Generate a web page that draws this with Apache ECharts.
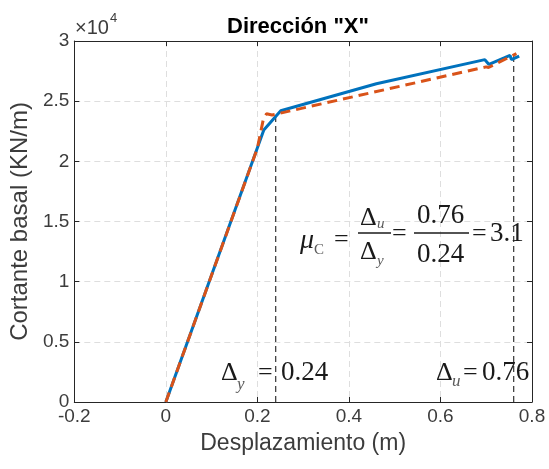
<!DOCTYPE html>
<html>
<head>
<meta charset="utf-8">
<script src="https://cdn.jsdelivr.net/npm/echarts@6/dist/echarts.min.js"></script>
<style>
  html, body { margin: 0; padding: 0; background: #fff; }
  #chart { width: 549px; height: 469px; }
</style>
</head>
<body>
<div id="chart"></div>
<script>
// Pushover capacity curve (blue) and its bilinear idealisation (orange dashed)
const dispPushover  = [0, 0.214, 0.251, 0.46, 0.697, 0.706, 0.752, 0.755, 0.772];
const shearPushover = [0, 22600, 24200, 26450, 28450, 28050, 28800, 28450, 28750];

const dispBilinear  = [0, 0.200, 0.213, 0.220, 0.232, 0.70, 0.705, 0.766];
const shearBilinear = [0, 21100, 23500, 23950, 23850, 27850, 27800, 28950];

// Yield and ultimate displacements and the resulting ductility
const yieldDisp = 0.24;
const ultimateDisp = 0.76;
const yieldShear = 23900;
const ultimateShear = 28950;
const ductility = 3.1;

const xTicks = ['-0.2', '0', '0.2', '0.4', '0.6', '0.8'];
const yTicks = ['0', '0.5', '1', '1.5', '2', '2.5', '3'];

const AX = '#262626';
const TXT = '#3c3c3c';
const SANS = 'Liberation Sans, Arial, sans-serif';
const SERIF = 'Liberation Serif, Times New Roman, serif';

const pairs = (xs, ys) => xs.map((x, i) => [x, ys[i]]);

const chart = echarts.init(document.getElementById('chart'));

const tickStyle = { show: true, inside: true, length: 5, lineStyle: { color: AX, width: 1 } };
const gridStyle = { show: true, lineStyle: { color: '#dedede', type: [6, 4], width: 1 } };

// Math annotation pieces: [text, left, centreY, size, italic, colour]
const INK = '#1a1a1a';
const SUB = '#5a5a5a';
const mathPieces = [
  // Δy = 0.24
  ['Δ', 221, 373, 26, false, INK],
  ['y', 237, 385, 17, true, SUB],
  ['=', 258, 373, 26, false, INK],
  [String(yieldDisp), 281, 373, 27, false, INK],
  // Δu = 0.76
  ['Δ', 436, 373, 26, false, INK],
  ['u', 452, 382, 17, true, SUB],
  ['=', 463, 373, 26, false, INK],
  [String(ultimateDisp), 482, 373, 27, false, INK],
  // μc = Δu/Δy = 0.76/0.24 = 3.1
  ['μ', 300, 241, 28, true, INK],
  ['C', 314, 250, 15, false, SUB],
  ['=', 334, 240, 26, false, INK],
  ['Δ', 360, 218, 26, false, INK],
  ['u', 377, 224, 15, true, SUB],
  ['Δ', 360, 252, 26, false, INK],
  ['y', 377, 261, 15, true, SUB],
  ['=', 392, 234, 26, false, INK],
  [String(ultimateDisp), 417, 216, 27, false, INK],
  [String(yieldDisp), 417, 255, 27, false, INK],
  ['=', 472, 234, 26, false, INK],
  [String(ductility), 490, 234, 27, false, INK]
];

const graphics = mathPieces.map(p => ({
  type: 'text',
  left: p[1],
  top: p[2] - p[3] / 2,
  style: {
    text: p[0],
    font: (p[4] ? 'italic ' : '') + p[3] + 'px ' + SERIF,
    fill: p[5]
  },
  z: 20
}));
// fraction bars
graphics.push(
  { type: 'line', shape: { x1: 358, y1: 233, x2: 391, y2: 233 }, style: { stroke: INK, lineWidth: 1.3 }, z: 20 },
  { type: 'line', shape: { x1: 414, y1: 233, x2: 469, y2: 233 }, style: { stroke: INK, lineWidth: 1.3 }, z: 20 }
);
// exponent label of the y axis
graphics.push(
  { type: 'text', left: 75, top: 18, style: { text: '×10', font: '20px ' + SANS, fill: TXT }, z: 20 },
  { type: 'text', left: 110, top: 12, style: { text: '4', font: '13px ' + SANS, fill: TXT }, z: 20 }
);

chart.setOption({
  animation: false,
  backgroundColor: '#ffffff',
  title: {
    text: 'Dirección "X"',
    left: 293,
    top: 11,
    textAlign: 'center',
    textStyle: { fontFamily: SANS, fontWeight: 'bold', fontSize: 22, color: '#000' }
  },
  grid: { left: 73, right: 17, top: 41, bottom: 67, containLabel: false },
  xAxis: [
    {
      type: 'value', min: -0.2, max: 0.8, interval: 0.2,
      name: 'Desplazamiento (m)', nameLocation: 'middle', nameGap: 30,
      nameTextStyle: { fontFamily: SANS, fontSize: 23, color: TXT },
      axisLine: { show: true, onZero: false, lineStyle: { color: AX, width: 1 } },
      axisTick: tickStyle,
      axisLabel: {
        fontFamily: SANS, fontSize: 19, color: TXT, margin: 5,
        formatter: (v) => xTicks[Math.round((v + 0.2) / 0.2)]
      },
      splitLine: gridStyle
    },
    {
      type: 'value', min: -0.2, max: 0.8, interval: 0.2, position: 'top',
      axisLine: { show: true, onZero: false, lineStyle: { color: AX, width: 1 } },
      axisTick: tickStyle, axisLabel: { show: false }, splitLine: { show: false }
    }
  ],
  yAxis: [
    {
      type: 'value', min: 0, max: 30000, interval: 5000,
      name: 'Cortante basal (KN/m)', nameLocation: 'middle', nameGap: 40,
      nameTextStyle: { fontFamily: SANS, fontSize: 24, color: TXT },
      axisLine: { show: true, onZero: false, lineStyle: { color: AX, width: 1 } },
      axisTick: tickStyle,
      axisLabel: {
        fontFamily: SANS, fontSize: 19, color: TXT, margin: 5,
        formatter: (v) => yTicks[Math.round(v / 5000)]
      },
      splitLine: gridStyle
    },
    {
      type: 'value', min: 0, max: 30000, interval: 5000, position: 'right',
      axisLine: { show: true, onZero: false, lineStyle: { color: AX, width: 1 } },
      axisTick: tickStyle, axisLabel: { show: false }, splitLine: { show: false }
    }
  ],
  series: [
    {
      name: 'Pushover', type: 'line', data: pairs(dispPushover, shearPushover),
      showSymbol: false, symbol: 'none', z: 3,
      lineStyle: { color: '#0072BD', width: 3 }
    },
    {
      name: 'Bilineal', type: 'line', data: pairs(dispBilinear, shearBilinear),
      showSymbol: false, symbol: 'none', z: 4,
      lineStyle: { color: '#D95319', width: 3, type: [10, 6] }
    },
    {
      name: 'Δy', type: 'line', data: [[yieldDisp, 0], [yieldDisp, yieldShear]],
      showSymbol: false, symbol: 'none', z: 2,
      lineStyle: { color: '#333', width: 1.2, type: [6, 4] }
    },
    {
      name: 'Δu', type: 'line', data: [[ultimateDisp, 0], [ultimateDisp, ultimateShear]],
      showSymbol: false, symbol: 'none', z: 2,
      lineStyle: { color: '#333', width: 1.2, type: [6, 4] }
    }
  ],
  graphic: graphics
});
</script>
</body>
</html>
